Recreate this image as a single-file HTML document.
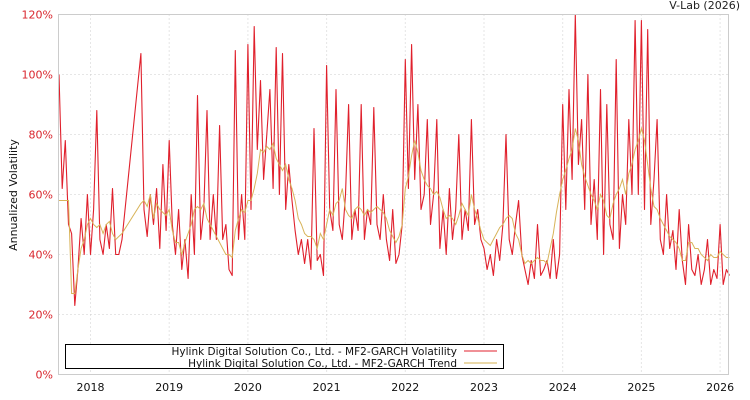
<!DOCTYPE html>
<html><head><meta charset="utf-8"><style>
html,body{margin:0;padding:0;background:#fff;}
svg{display:block;font-family:"DejaVu Sans","Liberation Sans",sans-serif;}
</style></head><body>
<svg id="chart" width="750" height="400" viewBox="0 0 750 400" xmlns="http://www.w3.org/2000/svg">
<text x="740" y="9" font-size="11" text-anchor="end" fill="#222">V-Lab (2026)</text>
<text transform="translate(17,195) rotate(-90)" font-size="11" text-anchor="middle" fill="#111">Annualized Volatility</text>
<g id="grid"></g>
<g id="series"></g>
<rect x="58.5" y="14.5" width="670" height="360" fill="none" stroke="#ccc"/>
<g id="axes"></g>
<g>
<rect x="65.5" y="344.5" width="438" height="24" fill="#fff" stroke="#000"/>
<text x="457" y="355" font-size="10.5" text-anchor="end" fill="#111">Hylink Digital Solution Co., Ltd. - MF2-GARCH Volatility</text>
<line x1="464" y1="351" x2="497" y2="351" stroke="#e0202c" stroke-width="1"/>
<text x="457" y="367" font-size="10.5" text-anchor="end" fill="#111">Hylink Digital Solution Co., Ltd. - MF2-GARCH Trend</text>
<line x1="464" y1="363" x2="497" y2="363" stroke="#d4b050" stroke-width="1"/>
</g>
</svg>
<script>
const startYear = 2017.6;
const stepYear = 0.04;
const yTicks = [0,20,40,60,80,100,120];
const xTickYears = [2018,2019,2020,2021,2022,2023,2024,2025,2026];
const volatility = [
100,62,78,50,47,23,35,52,40,60,
40,55,88,45,40,50,42,62,40,40,45,null,null,null,null,null,107,55,46,60,50,62,42,70,48,
78,50,40,55,35,45,32,60,40,93,45,55,88,45,60,45,83,45,50,35,33,108,45,60,45,
110,55,116,75,98,65,80,95,62,109,60,107,55,70,58,48,40,45,37,45,35,82,38,40,33,
103,55,48,95,50,45,60,90,45,55,48,90,45,55,50,89,50,45,60,45,38,55,37,40,50,
105,62,110,65,90,55,60,85,50,60,85,42,55,40,62,45,55,80,45,55,48,85,50,55,45,
42,35,40,33,45,38,50,80,45,40,50,58,40,35,30,38,32,50,33,35,38,32,45,32,40,
90,55,95,65,120,70,85,55,100,50,65,45,95,40,90,50,45,105,42,60,50,85,60,118,60,
118,55,115,50,65,85,45,40,60,42,48,35,55,38,30,50,35,33,40,30,35,45,30,35,32,
50,30,35,33
];
const trend = [
58,58,58,58,27,27,35,42,45,50,
52,50,49,50,47,50,51,47,45,46,47,null,null,null,null,null,57,58,56,60,52,57,55,54,53,
55,48,44,44,40,44,47,50,55,56,55,57,52,50,48,46,44,42,40,40,39,48,52,55,54,
58,58,62,67,75,74,76,75,77,72,70,68,70,65,62,58,52,50,47,46,46,45,42,47,45,
50,55,53,57,58,62,55,53,52,55,56,55,53,55,54,55,56,55,54,52,48,46,44,46,50,
62,66,73,78,74,68,65,63,62,60,61,59,55,52,53,52,50,53,57,55,53,60,55,52,48,
45,44,43,45,47,49,50,52,53,52,47,45,40,37,38,37,38,39,38,38,37,42,47,54,60,
65,68,72,75,82,78,70,66,63,60,58,55,60,58,53,52,57,60,62,65,60,67,70,75,78,
82,78,70,62,56,55,52,50,48,46,45,44,42,38,38,44,44,42,42,40,39,38,40,39,39,
41,40,39,39
];
const NS="http://www.w3.org/2000/svg";
const x0=58.5,x1=728.5,y0=374.5,y1=14.5;
function xScale(yr){return 90.5+(yr-2018)*78.7;}
function yScale(v){return y0-(v/120)*(y0-y1);}
function mk(tag,attrs,parent){const e=document.createElementNS(NS,tag);for(const k in attrs)e.setAttribute(k,attrs[k]);parent.appendChild(e);return e;}
const grid=document.getElementById('grid'),axes=document.getElementById('axes'),series=document.getElementById('series');
yTicks.forEach(v=>{
  const y=yScale(v);
  if(v>0&&v<120){const l=mk('line',{x1:x0,x2:x1,y1:y,y2:y,stroke:'#ccc','stroke-dasharray':'1,3'},grid);
  
  }
  const t=mk('text',{x:53,y:y+4,'font-size':11,'text-anchor':'end',fill:'#d9262e'},axes);
  
  
  t.textContent=v+'%';
});
xTickYears.forEach(yr=>{
  const x=xScale(yr);
  const l=mk('line',{x1:x,x2:x,y1:y1,y2:y0,stroke:'#ccc','stroke-dasharray':'1,3'},grid);
  
  
  const t=mk('text',{x:x,y:391,'font-size':11,'text-anchor':'middle',fill:'#111'},axes);
  
  
  t.textContent=yr;
});
function pathFor(arr){let d='';arr.forEach((v,i)=>{if(v===null)return;const x=xScale(startYear+i*stepYear),y=yScale(v);d+=(d?'L':'M')+x.toFixed(1)+','+y.toFixed(1);});return d;}
const pv=mk('path',{d:pathFor(volatility),fill:'none',stroke:'#e0202c','stroke-width':1.1,'stroke-linejoin':'round'},series);


const pt=mk('path',{d:pathFor(trend),fill:'none',stroke:'#d8b45a','stroke-width':1},series);


</script>
</body></html>
